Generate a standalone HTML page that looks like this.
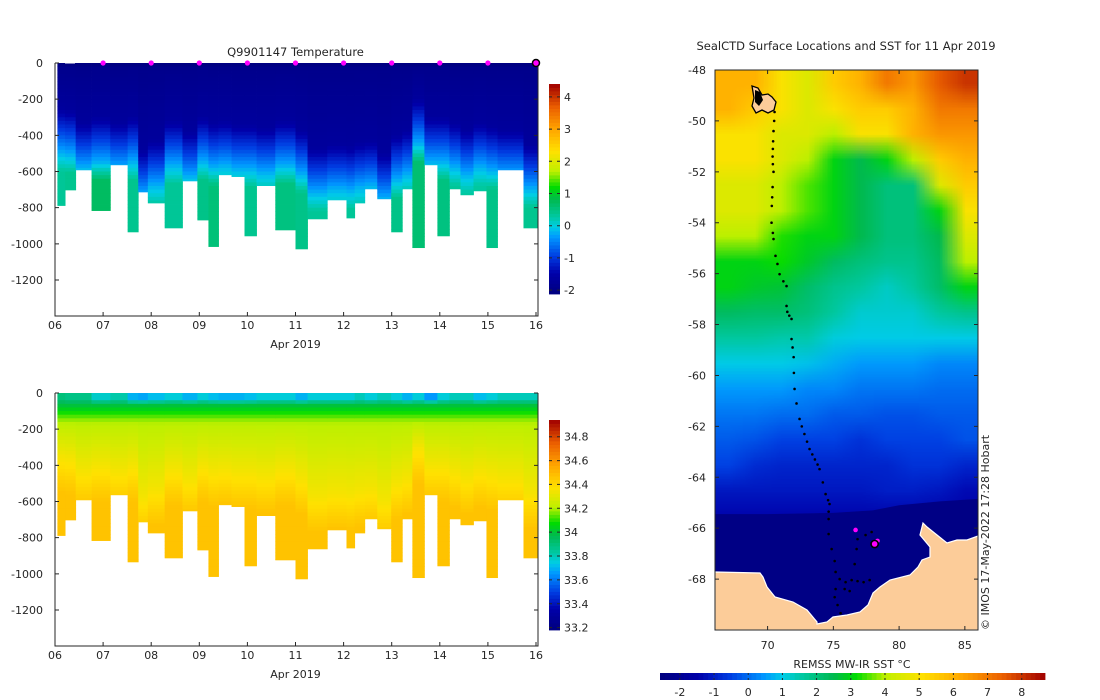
<!DOCTYPE html>
<html><head><meta charset="utf-8">
<style>
body{margin:0;background:#fff;}
svg{display:block;font-family:"DejaVu Sans","Liberation Sans",sans-serif;}
text{fill:#262626;font-size:11px;}
</style></head>
<body>
<svg id="fig" width="1100" height="700" viewBox="0 0 1100 700" xmlns="http://www.w3.org/2000/svg">
  <g id="temp"></g>
  <g id="sal"></g>
  <g id="map"></g>
</svg>
<script>
// ---- section data ----
const colStart = [0.05,0.21,0.43,0.76,1.15,1.51,1.73,1.93,2.28,2.65,2.96,3.19,3.40,3.67,3.94,4.19,4.58,5.00,5.25,5.66,6.06,6.23,6.44,6.70,6.99,7.22,7.43,7.68,7.95,8.20,8.43,8.70,8.97,9.20,9.74];
const colEnd = 10.04;
const colMaxDepth = [788,702,591,816,563,934,713,774,912,652,868,1015,618,628,956,678,923,1028,862,757,857,774,696,751,934,696,1021,563,956,696,729,707,1021,591,912];
const colThermo = [250,260,330,300,330,300,480,430,320,380,300,330,320,340,340,360,320,370,470,450,460,440,430,500,400,370,200,300,300,330,370,330,350,370,450];
const colDeepT = [0.35,0.4,0.4,0.7,0.4,0.4,0.3,0.3,0.35,0.35,0.45,0.55,0.3,0.35,0.4,0.3,0.5,0.45,0.35,0.25,0.35,0.25,0.3,0.25,0.45,0.3,0.6,0.4,0.5,0.35,0.3,0.3,0.45,0.3,0.4];
const colSurfS = [33.9,33.88,33.88,33.78,33.82,33.7,33.68,33.72,33.76,33.7,33.76,33.72,33.7,33.7,33.72,33.76,33.76,33.7,33.76,33.76,33.76,33.8,33.76,33.8,33.76,33.7,33.76,33.66,33.76,33.8,33.8,33.72,33.76,33.8,33.8];
const profileDays = [1,2,3,4,5,6,7,8,9];
const lastProfileDay = 10;
const depthTicks = [0,-200,-400,-600,-800,-1000,-1200];
const dayTicks = ['06','07','08','09','10','11','12','13','14','15','16'];
const tempCbarTicks = [4,3,2,1,0,-1,-2];
const salCbarTicks = [34.8,34.6,34.4,34.2,34,33.8,33.6,33.4,33.2];

// ---- map data ----
const sstLats = [-48.5,-49.5,-50.5,-51.5,-52.5,-53.5,-54.5,-55.5,-56.5,-57.5,-58.5,-59.5,-60.5,-61.5,-62.5,-63.5,-64.5,-65.5,-66.5,-67.5,-68.5,-69.5];
const sstLons = [67,69,71,73,75,77,79,81,83,85];
const sstGrid = [
[6,6,5,4.5,5.5,6,7,6.5,7.5,8],
[6,5.5,5,4.5,5,5.5,5.5,6,7,7],
[5,5,4.5,4.5,4,5,5,6,6.5,6.5],
[5,5,4.5,4,3,2.5,3,4,5.5,6],
[4.5,4.5,4,3.5,3,2.5,2,2,4.5,5.5],
[4.5,4.5,4,3.5,3,2.5,2,2,3,5],
[4,4,3.3,3,3,2.5,2,2,2.5,4.5],
[3,3,3.2,2.8,2.3,2,1.8,1.8,2.3,4],
[3,2.8,2.7,2.2,1.8,1.6,1.3,1.6,2.2,3],
[2.3,2.2,2.2,2,1.6,1.2,1.2,1.2,1.6,1.8],
[1.6,1.6,1.5,1.5,1.1,1,1,1,1,1],
[1,1,1,0.9,0.7,0.5,0.5,0.5,0.3,0.3],
[0.5,0.5,0.5,0.3,0.3,0.1,0.1,0.1,0,0],
[0.1,0.1,0,0,-0.2,-0.2,-0.3,-0.3,-0.2,-0.2],
[-0.2,-0.3,-0.5,-0.5,-0.5,-0.7,-0.5,-0.5,-0.5,-0.3],
[-0.5,-0.8,-0.9,-0.9,-0.9,-0.9,-0.9,-0.7,-0.7,-0.9],
[-1.1,-1.1,-1.1,-1.1,-1.1,-1.1,-1,-1,-1.1,-1.3],
[-1.4,-1.4,-1.4,-1.4,-1.4,-1.4,-1.4,-1.4,-1.5,-1.5],
[-1.8,-1.8,-1.8,-1.8,-1.8,-1.8,-1.8,-1.8,-1.8,-1.8],
[-1.8,-1.8,-1.8,-1.8,-1.8,-1.8,-1.8,-1.8,-1.8,-1.8],
[-1.8,-1.8,-1.8,-1.8,-1.8,-1.8,-1.8,-1.8,-1.8,-1.8],
[-1.8,-1.8,-1.8,-1.8,-1.8,-1.8,-1.8,-1.8,-1.8,-1.8]];
const trackLon = [70.53,70.5,70.45,70.42,70.4,70.38,70.4,70.45,70.38,70.35,70.32,70.3,70.4,70.45,70.6,70.75,70.91,71.2,71.44,71.44,71.5,71.65,71.82,71.82,71.9,71.98,72.0,72.05,72.2,72.43,72.6,72.8,73.0,73.19,73.4,73.6,73.8,73.95,74.2,74.41,74.6,74.71,74.64,74.64,74.64,74.87,75.1,75.17,75.48,75.93,76.39,76.84,77.3,77.76,76.62,76.77,76.84,77.45,77.91,75.17,75.1,75.32,75.55,75.86,76.24];
const trackLat = [-49.65,-50.0,-50.4,-50.8,-51.1,-51.4,-51.7,-52.0,-52.6,-53.0,-53.34,-54.0,-54.4,-54.64,-55.3,-55.62,-56.02,-56.3,-56.49,-57.27,-57.5,-57.65,-57.78,-58.57,-58.9,-59.28,-59.9,-60.53,-61.1,-61.71,-62.0,-62.3,-62.6,-62.89,-63.1,-63.3,-63.5,-63.68,-64.2,-64.66,-64.9,-65.05,-65.35,-65.64,-66.23,-66.82,-67.29,-67.72,-68.0,-68.12,-68.04,-68.08,-68.12,-68.04,-67.41,-66.82,-66.43,-66.27,-66.15,-68.39,-68.71,-69.02,-69.34,-68.39,-68.47];
const surfLon = [76.69,78.36];
const surfLat = [-66.07,-66.5];
const latestLon = [78.14];
const latestLat = [-66.62];
const latTicks = [-48,-50,-52,-54,-56,-58,-60,-62,-64,-66,-68];
const lonTicks = [70,75,80,85];
const sstCbarTicks = [-2,-1,0,1,2,3,4,5,6,7,8];

// ---- colormap ----
const stops=[[0,[0,0,125]],[0.1,[0,0,170]],[0.18,[0,60,225]],[0.27,[0,150,255]],[0.32,[0,205,230]],[0.37,[0,200,160]],[0.45,[0,185,80]],[0.51,[0,220,0]],[0.585,[190,240,0]],[0.68,[255,225,0]],[0.785,[255,165,0]],[0.89,[235,95,0]],[1,[160,0,0]]];
function cmap(t){t=Math.max(0,Math.min(1,t));for(let i=1;i<stops.length;i++){if(t<=stops[i][0]){const a=stops[i-1],b=stops[i];const f=(t-a[0])/(b[0]-a[0]);const c=a[1].map((v,k)=>Math.round(v+(b[1][k]-v)*f));return `rgb(${c[0]},${c[1]},${c[2]})`;}}return 'rgb(160,0,0)';}
const NS='http://www.w3.org/2000/svg';
function el(tag,attrs,parent){const e=document.createElementNS(NS,tag);for(const k in attrs)e.setAttribute(k,attrs[k]);parent.appendChild(e);return e;}
function txt(parent,x,y,s,anchor){const t=el('text',{x:x,y:y,'text-anchor':anchor||'middle'},parent);t.textContent=s;return t;}

function tempProfile(i,d){const d1=colThermo[i],dt=colDeepT[i];
 if(d<30)return -2.05; if(d<d1)return -1.92+0.25*(d/d1);
 if(d<d1+150)return -1.65+0.85*((d-d1)/150);
 if(d<d1+250)return -0.8+0.6*((d-d1-150)/100);
 if(d<d1+350)return -0.2+(dt+0.2)*((d-d1-250)/100); return dt;}
function salProfile(i,d){const d1=colThermo[i],s0=colSurfS[i];
 if(d<30)return s0; if(d<70)return s0+(34.0-s0)*((d-30)/40);
 if(d<160)return 34.0+0.2*((d-70)/90);
 if(d<d1+100)return 34.2+0.15*((d-160)/Math.max(60,d1-60));
 if(d<d1+300)return 34.35+0.12*((d-d1-100)/200); return 34.47;}

function section(gid,title,yTop,profile,vmin,vmax,cbTicks,cbTop,cbBot,showMarkers){
 const g=document.getElementById(gid);
 const x0=55,x1=536,yB=yTop+253;
 const X=d=>x0+(x1-x0)*d/10, Y=z=>yTop+z*(217/1200);
 const cells=el('g',{},g);
 
 
 for(let i=0;i<colStart.length;i++){
  const xa=X(colStart[i]),xb=X(i+1<colStart.length?colStart[i+1]:colEnd);
  for(let d=0;d<colMaxDepth[i];d+=20){
   const dd=Math.min(20,colMaxDepth[i]-d);
   const r=el('rect',{x:xa.toFixed(2),y:Y(d).toFixed(2),width:(xb-xa+0.4).toFixed(2),height:(Y(dd)-yTop+0.4).toFixed(2),fill:cmap((profile(i,d+10)-vmin)/(vmax-vmin))},cells);
   
   
  }
 }
 const ax=el('g',{stroke:'#262626','stroke-width':1,fill:'none'},g);
 
 
 el('path',{d:`M${x0} ${yTop}V${yB}H${x1+2}V${yTop}`},ax);
 depthTicks.forEach(v=>{const y=Y(-v);el('path',{d:`M${x0} ${y}h4M${x1+2} ${y}h-4`},ax);
  const t=txt(g,x0-12,y+4,String(v),'end');});
 dayTicks.forEach((s,k)=>{const x=X(k);el('path',{d:`M${x} ${yB}v-4`},ax);
  const t=txt(g,x,yB+13,s);});
 const xl=txt(g,(x0+x1)/2,yB+32,'Apr 2019');
 if(title){const tt=txt(g,(x0+x1)/2,yTop-7,title);tt.setAttribute('style','font-size:11.5px');}
 const cb=el('g',{},g);
 const n=60;for(let k=0;k<n;k++){const y=cbBot-(cbBot-cbTop)*(k+1)/n;el('rect',{x:549,y:y.toFixed(2),width:11,height:((cbBot-cbTop)/n+0.4).toFixed(2),fill:cmap((k+0.5)/n)},cb);}
 const CY=v=>cbBot-(cbBot-cbTop)*(v-vmin)/(vmax-vmin);
 cbTicks.forEach(v=>{const y=CY(v);el('path',{d:`M549 ${y}h3M560 ${y}h-3`,stroke:'#262626'},cb);
  const t=txt(cb,564,y+4,String(v),'start');});
 if(showMarkers){
  profileDays.forEach(d=>{const c=el('circle',{cx:X(d),cy:yTop,r:2.6,fill:'#ff00ff'},g);});
  const c=el('circle',{cx:X(lastProfileDay),cy:yTop,r:3.5,fill:'#ff00ff',stroke:'#000','stroke-width':1.5},g);
  
  el('rect',{x:65,y:yTop-0.5,width:10,height:1,fill:'#fff'},g);
 }
}
section('temp','Q9901147  Temperature',63,tempProfile,-2.12,4.4,tempCbarTicks,84,294,true);
section('sal',null,393,salProfile,33.18,34.94,salCbarTicks,420,630,false);

// ---- map ----
(function(){
 const g=document.getElementById('map');
 const mx0=715,mx1=978,my0=70,my1=630;
 const LX=lon=>mx0+(lon-66)*(mx1-mx0)/20, LY=lat=>my0+(-48-lat)*(my1-my0)/22;
 const vmin=-2.58,vmax=8.68;
 const cv=document.createElement('canvas');cv.width=sstLons.length;cv.height=sstLats.length;
 const cx=cv.getContext('2d');
 for(let r=0;r<sstLats.length;r++)for(let c=0;c<sstLons.length;c++){cx.fillStyle=cmap((sstGrid[r][c]-vmin)/(vmax-vmin));cx.fillRect(c,r,1,1);}
 const fo=el('foreignObject',{x:mx0,y:my0,width:mx1-mx0,height:my1-my0},g);
 
 
 const big=document.createElement('canvas');big.width=mx1-mx0;big.height=my1-my0;
 const bx=big.getContext('2d');bx.imageSmoothingEnabled=true;bx.drawImage(cv,0,0,big.width,big.height);
 big.style.display='block';fo.appendChild(big);
 const ice=el('path',{d:`M${mx0} ${LY(-65.45)} L${LX(70)} ${LY(-65.45)} L${LX(75)} ${LY(-65.4)} L${LX(78)} ${LY(-65.3)} L${LX(80)} ${LY(-65.1)} L${LX(83)} ${LY(-64.95)} L${mx1} ${LY(-64.85)} L${mx1} ${my1} L${mx0} ${my1}Z`,fill:'#000085'},g);
 
 const land=el('path',{d:'M715 572 L760 573 L763 577 L767 587 L775 597 L793 602 L807 610 L817 622 L817 624 L827 622 L833 617 L847 615 L860 612 L868 605 L873 593 L880 587 L890 580 L910 575 L918 567 L922 560 L930 557 L930 547 L920 535 L923 523 L927 527 L937 535 L947 543 L957 540 L967 540 L978 536 L978 630 L715 630Z',fill:'#fccc99',stroke:'#fff','stroke-width':1.2},g);
 
 const isl=el('path',{d:'M752 86 L758 88 L762 95 L768 94 L772 97 L776 102 L774 110 L768 113 L762 110 L756 113 L752 106 L754 98Z',fill:'#fccc99',stroke:'#000','stroke-width':1.3},g);
 
 const isl2=el('path',{d:'M755 90 L760 92 L763 100 L759 106 L755 102Z',fill:'#000'},g);
 
 for(let i=0;i<trackLon.length;i++){const c=el('circle',{cx:LX(trackLon[i]),cy:LY(trackLat[i]),r:1.3,fill:'#000'},g);
  }
 for(let i=0;i<surfLon.length;i++){const c=el('circle',{cx:LX(surfLon[i]),cy:LY(surfLat[i]),r:2.3,fill:'#ff00ff'},g);
  }
 for(let i=0;i<latestLon.length;i++){const c=el('circle',{cx:LX(latestLon[i]),cy:LY(latestLat[i]),r:3.6,fill:'#ff00ff',stroke:'#000','stroke-width':1.6},g);
  }
 const ax=el('g',{stroke:'#262626',fill:'none'},g);
 el('rect',{x:mx0,y:my0,width:mx1-mx0,height:my1-my0},ax);
 latTicks.forEach(v=>{const y=LY(v);el('path',{d:`M${mx0} ${y}h4M${mx1} ${y}h-4`},ax);
  const t=txt(g,mx0-9,y+4,String(v),'end');});
 lonTicks.forEach(v=>{const x=LX(v);el('path',{d:`M${x} ${my0}v4M${x} ${my1}v-4`},ax);
  const t=txt(g,x,my1+19,String(v));});
 const tt=txt(g,846,50,'SealCTD Surface Locations and SST for 11 Apr 2019');tt.setAttribute('style','font-size:11.5px');
 const cr=el('text',{x:0,y:0,transform:'translate(989,630) rotate(-90)','text-anchor':'start','font-size':'10px'},g);
 cr.textContent='© IMOS 17-May-2022 17:28 Hobart';
 const cb=el('g',{},g);
 const cbx0=660,cbx1=1045,n=80;
 for(let k=0;k<n;k++){el('rect',{x:(cbx0+(cbx1-cbx0)*k/n).toFixed(2),y:673,width:((cbx1-cbx0)/n+0.4).toFixed(2),height:7,fill:cmap((k+0.5)/n)},cb);}
 const CX=v=>cbx0+(cbx1-cbx0)*(v-vmin)/(vmax-vmin);
 sstCbarTicks.forEach(v=>{const x=CX(v);el('path',{d:`M${x} 673v2M${x} 680v-2`,stroke:'#262626'},cb);
  const t=txt(cb,x,696,String(v));});
 const cl=txt(g,852,668,'REMSS MW-IR SST °C');
})();
</script>
</body></html>
